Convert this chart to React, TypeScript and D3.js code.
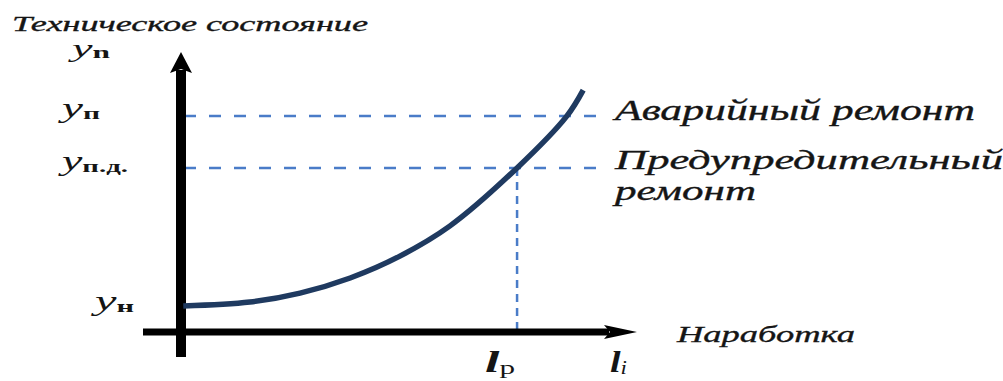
import React from "react";
import * as d3 from "d3";

// Wear curve: technical condition vs. operating time (arbitrary units 0..100)
const curveRuntime = [0.5, 15.1, 26.1, 37.1, 48.0, 59.0, 73.7, 84.6, 88.2];
const curveCondition = [9.3, 10.7, 13.9, 19.3, 27.1, 37.9, 58.6, 77.1, 86.4];

// Characteristic levels of condition
const levelNames = ["Аварийный ремонт", "Предупредительный", "ремонт"];
const levelValues = [77.1, 58.6];
const yInitial = 9.3;
const runtimeRepair = 73.7; // l_p

const W = 1003;
const H = 381;

const x = d3.scaleLinear().domain([0, 100]).range([181, 637]);
const y = d3.scaleLinear().domain([0, 100]).range([332, 52]);

const serif = '"Liberation Serif", "Times New Roman", Times, serif';
const dashBlue = "#4a7cc8";
const curveColor = "#1f3a60";
const ink = "#151515";

export default function App() {
  const pts: [number, number][] = curveRuntime.map((r, i) => [r, curveCondition[i]]);
  const line = d3
    .line<[number, number]>()
    .x((d) => x(d[0]))
    .y((d) => y(d[1]))
    .curve(d3.curveCatmullRom.alpha(0.5));

  const x0 = x(0);
  const yAxisTop = y(100);
  const xAxisEnd = x(100);
  const yBase = y(0);

  return (
    <svg
      width={W}
      height={H}
      style={{ position: "absolute", left: 0, top: 0, background: "#fff", fontFamily: serif }}
    >
      {/* dashed guide lines */}
      {levelValues.map((v, i) => (
        <line
          key={i}
          x1={x0 + 3}
          x2={600}
          y1={y(v)}
          y2={y(v)}
          stroke={dashBlue}
          strokeWidth={2.5}
          strokeDasharray="12 13"
        />
      ))}
      <line
        x1={x(runtimeRepair)}
        x2={x(runtimeRepair)}
        y1={y(levelValues[1])}
        y2={yBase}
        stroke={dashBlue}
        strokeWidth={2.5}
        strokeDasharray="8 6"
      />

      {/* axes */}
      <line x1={x0} x2={x0} y1={357} y2={yAxisTop + 18} stroke="#000" strokeWidth={10} />
      <path
        d={`M${x0},${yAxisTop} L${x0 + 11},${yAxisTop + 21} L${x0},${yAxisTop + 17} L${x0 - 11},${yAxisTop + 21} Z`}
        fill="#000"
      />
      <line x1={143} x2={xAxisEnd - 28} y1={yBase} y2={yBase} stroke="#000" strokeWidth={7} />
      <path
        d={`M${xAxisEnd},${yBase} L${xAxisEnd - 33},${yBase + 7} L${xAxisEnd - 27},${yBase} L${xAxisEnd - 33},${yBase - 7} Z`}
        fill="#000"
      />

      {/* wear curve */}
      <path d={line(pts) || ""} fill="none" stroke={curveColor} strokeWidth={5.5} />

      {/* italic captions */}
      <g fontStyle="italic" fill={ink} stroke={ink} strokeWidth={0.35}>
        <text x={12} y={31} fontSize={22} textLength={356} lengthAdjust="spacingAndGlyphs">
          Техническое состояние
        </text>
        <text x={677} y={342} fontSize={24} textLength={178} lengthAdjust="spacingAndGlyphs">
          Наработка
        </text>

        {/* level labels */}
        <text x={615} y={120} fontSize={29} textLength={360} lengthAdjust="spacingAndGlyphs">
          {levelNames[0]}
        </text>
        <text x={615} y={169} fontSize={28} textLength={388} lengthAdjust="spacingAndGlyphs">
          {levelNames[1]}
        </text>
        <text x={615} y={200} fontSize={28} textLength={141} lengthAdjust="spacingAndGlyphs">
          {levelNames[2]}
        </text>
      </g>

      {/* y-axis symbols */}
      <text x={72} y={57} fontSize={25} fill={ink} textLength={38} lengthAdjust="spacingAndGlyphs">
        <tspan fontStyle="italic">y</tspan>
        <tspan fontSize={17} fontWeight="bold" dy={1}>n</tspan>
      </text>
      <text x={62} y={y(levelValues[0]) + 1} fontSize={27} fill={ink} textLength={38} lengthAdjust="spacingAndGlyphs">
        <tspan fontStyle="italic">y</tspan>
        <tspan fontSize={17} fontWeight="bold" dy={2}>п</tspan>
      </text>
      <text x={62} y={y(levelValues[1]) + 2} fontSize={27} fill={ink} textLength={66} lengthAdjust="spacingAndGlyphs">
        <tspan fontStyle="italic">y</tspan>
        <tspan fontSize={17} fontWeight="bold" dy={2}>п.д.</tspan>
      </text>
      <text x={95} y={y(yInitial) + 4} fontSize={27} fill={ink} textLength={39} lengthAdjust="spacingAndGlyphs">
        <tspan fontStyle="italic">y</tspan>
        <tspan fontSize={17} fontWeight="bold" dy={2}>н</tspan>
      </text>

      {/* x-axis symbols */}
      <text x={x(runtimeRepair) - 32} y={372} fontSize={30} fill={ink} textLength={30} lengthAdjust="spacingAndGlyphs">
        <tspan fontStyle="italic" fontWeight="bold">l</tspan>
        <tspan fontSize={18} dy={2}>р</tspan>
      </text>
      <text x={610} y={372} fontSize={30} fill={ink} textLength={17} lengthAdjust="spacingAndGlyphs">
        <tspan fontStyle="italic" fontWeight="bold">l</tspan>
        <tspan fontSize={18} fontStyle="italic" dy={2}>i</tspan>
      </text>
    </svg>
  );
}
